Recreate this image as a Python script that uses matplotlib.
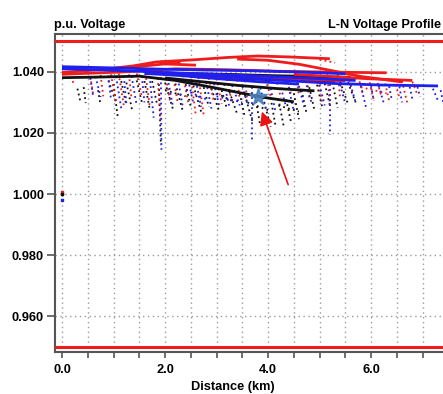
import matplotlib
matplotlib.use("Agg")
import matplotlib.pyplot as plt
from matplotlib.ticker import MultipleLocator

plt.rcParams['font.family'] = ['Liberation Sans', 'DejaVu Sans']

# ---- limits (p.u.) ----
upper_limit = 1.050
lower_limit = 0.950

# ---- primary feeder lines (distance km, voltage p.u.) ----
red_lines = [
    ([0.0, 0.8, 1.4, 1.85, 2.3], [1.0398, 1.0408, 1.0420, 1.0433, 1.0430]),
    ([0.9, 1.5, 2.0, 2.6], [1.0410, 1.0418, 1.0426, 1.0422]),
    ([1.9, 2.6, 3.2, 3.8, 4.4, 5.2], [1.0433, 1.0440, 1.0447, 1.0452, 1.0449, 1.0443]),
    ([3.4, 4.0, 4.6, 5.0, 5.8, 6.6], [1.0442, 1.0438, 1.0425, 1.0412, 1.0385, 1.0367]),
    ([0.0, 1.2, 2.2, 3.2, 4.2, 5.3, 6.3], [1.0392, 1.0400, 1.0410, 1.0407, 1.0402, 1.0399, 1.0397]),
    ([2.4, 3.2, 4.0, 4.8, 5.5], [1.0388, 1.0382, 1.0378, 1.0374, 1.0371]),
    ([4.5, 5.2, 5.9, 6.8], [1.0392, 1.0385, 1.0378, 1.0372]),
]
blue_lines = [
    ([0.0, 1.0, 1.9, 2.8, 3.6, 4.5, 5.5], [1.0417, 1.0413, 1.0409, 1.0406, 1.0404, 1.0400, 1.0394]),
    ([0.0, 0.9, 1.8, 2.6, 3.4, 4.4, 5.3, 6.2, 7.3],
     [1.0410, 1.0406, 1.0400, 1.0391, 1.0382, 1.0371, 1.0362, 1.0357, 1.0354]),
    ([1.6, 2.3, 3.0, 3.8, 4.6], [1.0395, 1.0388, 1.0378, 1.0368, 1.0360]),
    ([2.0, 3.0, 4.0, 5.0, 5.7], [1.0398, 1.0392, 1.0385, 1.0378, 1.0372]),
]
black_lines = [
    ([0.0, 0.7, 1.5, 2.2, 2.9, 3.5, 3.9, 4.5], [1.0381, 1.0383, 1.0386, 1.0372, 1.0350, 1.0330, 1.0317, 1.0302]),
    ([1.8, 2.5, 3.2, 4.0, 4.8, 5.6], [1.0396, 1.0394, 1.0392, 1.0388, 1.0385, 1.0382]),
    ([2.0, 2.7, 3.4, 4.2, 4.9], [1.0380, 1.0368, 1.0356, 1.0345, 1.0338]),
    ([2.5, 3.5, 4.5, 5.3], [1.0385, 1.0378, 1.0372, 1.0368]),
]

# ---- secondary / service branches: start km, end km, start p.u., end p.u. ----
black_x0 = [0.30, 0.42, 0.70, 0.90, 1.00, 1.15, 1.25, 1.45, 1.60, 1.75, 1.88, 2.00, 2.20, 2.40, 2.55,
            2.75, 2.90, 3.10, 3.25, 3.45, 3.55, 3.75, 3.90, 4.05, 4.20, 4.35, 4.50, 4.65, 4.80, 4.95,
            5.10, 5.25, 5.40, 5.55, 3.00, 3.60, 4.20, 2.00]
black_x1 = [0.36, 0.46, 0.74, 1.05, 1.08, 1.25, 1.36, 1.55, 1.70, 1.85, 1.92, 2.15, 2.35, 2.50, 2.70,
            2.85, 3.05, 3.20, 3.40, 3.55, 3.70, 3.85, 4.05, 4.15, 4.30, 4.45, 4.60, 4.75, 4.90, 5.05,
            5.20, 5.35, 5.55, 5.70, 3.30, 4.00, 4.60, 2.40]
black_v0 = [1.0345, 1.0350, 1.0340, 1.0372, 1.0360, 1.0370, 1.0365, 1.0372, 1.0370, 1.0370, 1.0360,
            1.0365, 1.0362, 1.0360, 1.0355, 1.0350, 1.0345, 1.0340, 1.0335, 1.0330, 1.0325, 1.0320,
            1.0318, 1.0315, 1.0312, 1.0310, 1.0330, 1.0340, 1.0350, 1.0358, 1.0362, 1.0365, 1.0368,
            1.0366, 1.0330, 1.0300, 1.0290, 1.0340]
black_v1 = [1.0300, 1.0298, 1.0300, 1.0300, 1.0255, 1.0290, 1.0275, 1.0300, 1.0280, 1.0290, 1.0160,
            1.0280, 1.0268, 1.0285, 1.0270, 1.0285, 1.0272, 1.0280, 1.0262, 1.0250, 1.0235, 1.0222,
            1.0220, 1.0217, 1.0225, 1.0232, 1.0245, 1.0262, 1.0275, 1.0285, 1.0290, 1.0282, 1.0295,
            1.0300, 1.0305, 1.0275, 1.0270, 1.0320]

blue_x0 = [0.55, 0.65, 0.90, 1.05, 1.20, 1.35, 1.55, 1.70, 1.92, 2.05, 2.25, 2.45, 2.60, 2.80, 2.95,
           3.15, 3.30, 3.50, 3.69, 3.85, 4.05, 4.25, 4.40, 4.60, 4.75, 5.00, 5.20, 5.40, 5.60, 5.80,
           6.00, 6.15, 6.35, 6.55, 6.75, 6.90, 7.20, 7.35, 2.40, 3.00]
blue_x1 = [0.60, 0.75, 0.95, 1.15, 1.25, 1.45, 1.60, 1.78, 1.93, 2.15, 2.35, 2.55, 2.70, 2.90, 3.05,
           3.25, 3.45, 3.60, 3.69, 3.95, 4.15, 4.35, 4.50, 4.70, 4.85, 5.10, 5.20, 5.50, 5.70, 5.90,
           6.05, 6.25, 6.40, 6.60, 6.80, 6.95, 7.30, 7.40, 2.80, 3.50]
blue_v0 = [1.0380, 1.0385, 1.0388, 1.0385, 1.0386, 1.0386, 1.0386, 1.0386, 1.0382, 1.0380, 1.0378,
           1.0374, 1.0370, 1.0366, 1.0362, 1.0360, 1.0356, 1.0352, 1.0350, 1.0348, 1.0346, 1.0348,
           1.0350, 1.0354, 1.0356, 1.0358, 1.0360, 1.0358, 1.0358, 1.0356, 1.0355, 1.0354, 1.0353,
           1.0352, 1.0351, 1.0351, 1.0345, 1.0340, 1.0340, 1.0320]
blue_v1 = [1.0325, 1.0318, 1.0310, 1.0280, 1.0295, 1.0290, 1.0300, 1.0250, 1.0145, 1.0290, 1.0280,
           1.0296, 1.0285, 1.0280, 1.0290, 1.0285, 1.0290, 1.0295, 1.0178, 1.0280, 1.0265, 1.0285,
           1.0270, 1.0285, 1.0295, 1.0290, 1.0195, 1.0295, 1.0300, 1.0285, 1.0305, 1.0295, 1.0310,
           1.0300, 1.0312, 1.0318, 1.0305, 1.0300, 1.0310, 1.0300]

red_x0 = [0.21, 0.55, 0.75, 0.95, 1.10, 1.30, 1.45, 1.62, 1.85, 2.00, 2.15, 2.35, 2.50, 2.65, 2.85,
          3.00, 3.20, 3.40, 3.55, 3.95, 4.15, 4.35, 4.55, 4.75, 4.95, 5.15, 5.35, 5.55, 5.75, 5.95,
          6.10, 6.25, 6.45, 6.60, 6.80, 5.80, 5.00]
red_x1 = [0.22, 0.60, 0.80, 1.05, 1.20, 1.35, 1.55, 1.70, 1.92, 2.10, 2.25, 2.45, 2.60, 2.75, 2.95,
          3.10, 3.30, 3.45, 3.60, 4.05, 4.25, 4.45, 4.60, 4.80, 5.05, 5.20, 5.40, 5.65, 5.85, 6.05,
          6.20, 6.35, 6.55, 6.70, 6.90, 6.30, 5.30]
red_v0 = [1.0370, 1.0385, 1.0390, 1.0392, 1.0395, 1.0392, 1.0395, 1.0396, 1.0396, 1.0394, 1.0392,
          1.0388, 1.0385, 1.0382, 1.0380, 1.0378, 1.0376, 1.0374, 1.0372, 1.0375, 1.0380, 1.0383,
          1.0385, 1.0388, 1.0390, 1.0392, 1.0392, 1.0388, 1.0385, 1.0382, 1.0380, 1.0378, 1.0374,
          1.0370, 1.0368, 1.0350, 1.0440]
red_v1 = [1.0360, 1.0330, 1.0320, 1.0300, 1.0290, 1.0310, 1.0320, 1.0290, 1.0230, 1.0305, 1.0295,
          1.0300, 1.0255, 1.0260, 1.0300, 1.0295, 1.0300, 1.0310, 1.0305, 1.0320, 1.0315, 1.0325,
          1.0320, 1.0315, 1.0300, 1.0290, 1.0315, 1.0325, 1.0320, 1.0310, 1.0320, 1.0305, 1.0315,
          1.0300, 1.0325, 1.0330, 1.0430]

# ---- isolated buses at the source end ----
iso_x = [0.0, 0.0, 0.0]
iso_v = [1.0005, 1.0000, 0.9980]
iso_colors = ['#ee1c1c', '#111111', '#2222ee']

# ---- marked bus and pointer ----
star_x, star_v = 3.81, 1.0318
arrow_tail = (4.39, 1.0031)
arrow_head = (3.88, 1.0270)

RED = '#ee1c1c'
BLUE = '#1f1fee'
BLACK = '#111111'

fig = plt.figure(figsize=(4.43, 3.94), dpi=100)
ax = fig.add_axes([55 / 443, 42 / 394, 415 / 443, 318 / 394])
ax.set_xlim(-0.136, 7.92)
ax.set_ylim(0.9483, 1.0524)

# grid
ax.xaxis.set_major_locator(MultipleLocator(2.0))
ax.xaxis.set_minor_locator(MultipleLocator(0.5))
ax.yaxis.set_major_locator(MultipleLocator(0.02))
ax.grid(which='both', axis='x', color='#9a9a9a', linestyle=(0, (1, 2.5)), linewidth=1.0)
ax.grid(which='major', axis='y', color='#9a9a9a', linestyle=(0, (1, 2.5)), linewidth=1.0)
ax.set_axisbelow(True)

# limit lines
ax.axhline(upper_limit, color=RED, lw=2.2, zorder=3)
ax.axhline(lower_limit, color=RED, lw=2.2, zorder=3)

# secondary branches (dotted)
dot = (0, (1, 1.8))
for x0s, x1s, v0s, v1s, c in [(black_x0, black_x1, black_v0, black_v1, BLACK),
                              (red_x0, red_x1, red_v0, red_v1, RED),
                              (blue_x0, blue_x1, blue_v0, blue_v1, BLUE)]:
    for a, b, t, u in zip(x0s, x1s, v0s, v1s):
        ax.plot([a, b], [t, u], color=c, lw=1.3, linestyle=dot, zorder=2)

# primary lines
for lines, c in [(black_lines, BLACK), (red_lines, RED), (blue_lines, BLUE)]:
    for xs, vs in lines:
        ax.plot(xs, vs, color=c, lw=2.0, solid_capstyle='butt', zorder=4)

ax.scatter(iso_x, iso_v, c=iso_colors, s=3, marker='s', zorder=5)

ax.plot([star_x], [star_v], marker='*', color='#4a80b8', markersize=13, alpha=0.9, zorder=6, linestyle='none')
ax.annotate('', xy=arrow_head, xytext=arrow_tail,
            arrowprops=dict(arrowstyle='-|>', color='#ee1111', lw=1.2, mutation_scale=20,
                            shrinkA=0, shrinkB=0), zorder=7)

# axes frame
for side in ['left', 'bottom', 'top']:
    ax.spines[side].set_color('#555555')
    ax.spines[side].set_linewidth(1.5)
ax.spines['right'].set_visible(False)

ax.set_xticks([0, 2, 4, 6])
ax.set_xticklabels(['0.0', '2.0', '4.0', '6.0'])
ax.set_yticks([0.96, 0.98, 1.00, 1.02, 1.04])
ax.set_yticklabels(['0.960', '0.980', '1.000', '1.020', '1.040'])
ax.tick_params(axis='both', which='major', labelsize=9.2, color='#555555', width=1.2)
ax.tick_params(axis='x', which='major', length=4, pad=4.5)
ax.tick_params(axis='x', which='minor', length=4, color='#555555', width=1.2)
ax.tick_params(axis='y', which='major', length=6, pad=2)
for lbl in ax.get_xticklabels() + ax.get_yticklabels():
    lbl.set_fontweight('bold')

fig.text(233 / 443, 7 / 394, 'Distance (km)', ha='center', va='center', fontsize=9.2, fontweight='bold')
fig.text(54 / 443, 1 - 25 / 394, 'p.u. Voltage', ha='left', va='center', fontsize=9.2, fontweight='bold')
fig.text(441 / 443, 1 - 25 / 394, 'L-N Voltage Profile', ha='right', va='center', fontsize=9.2, fontweight='bold')

fig.savefig('out.png', dpi=100)
